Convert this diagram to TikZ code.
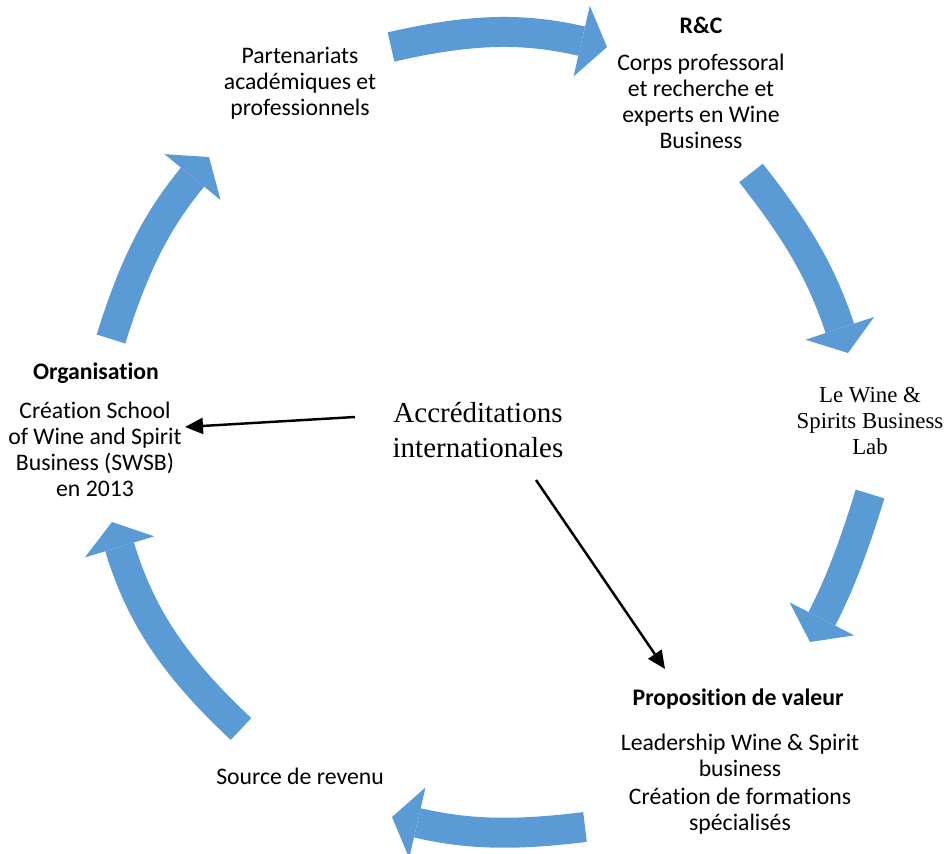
\documentclass[tikz,border=0pt]{standalone}
\usepackage{fontspec}
\setmainfont[Ligatures=CommonOff, RawFeature={-liga;-clig;-calt}]{Carlito}
\newfontfamily\timesfont{Liberation Serif}
\usetikzlibrary{arrows.meta,positioning}
\definecolor{cycleblue}{HTML}{5B9BD5}

\begin{document}
\begin{tikzpicture}[x=0.02cm, y=-0.02cm,
    lbl/.style={font=\fontsize{13.5}{14.8}\selectfont, align=center, inner sep=0pt},
    hdr/.style={font=\fontsize{13.5}{14.8}\selectfont\bfseries, align=center, inner sep=0pt},
    cycarrow/.style={draw=cycleblue, line width=0.6cm, -{Triangle[width=1.45cm, length=0.52cm, line width=0pt]}},
    pointer/.style={line width=1.4pt, -{Triangle[width=0.32cm, length=0.36cm]}}]
    \useasboundingbox (0,0) rectangle (946,854);

    % Text blocks around the cycle
    \node[lbl] (partner) at (300,83) {Partenariats\\acad\'emiques et\\professionnels};
    \node[hdr] (rc) at (701,25) {R\&C};
    \node[lbl] (rcbody) at (701,101) {Corps professoral\\et recherche et\\experts en Wine\\Business};
    \node[align=center, inner sep=0pt, font=\timesfont\fontsize{13}{14.8}\selectfont] (lab) at (870,421) {Le Wine \&\\Spirits Business\\Lab};
    \node[hdr] (prop) at (738,699) {Proposition de valeur};
    \node[lbl] (propA) at (740,755) {Leadership Wine \& Spirit\\business};
    \node[lbl] (propB) at (740,811) {Cr\'eation de formations\\sp\'ecialis\'es};
    \node[lbl] (revenue) at (300,776) {Source de revenu};
    \node[hdr] (org) at (96,373) {Organisation};
    \node[lbl] (orgbody) at (95,449) {Cr\'eation School\\of Wine and Spirit\\Business (SWSB)\\en 2013};

    % Centre
    \node[align=center, inner sep=0pt, font=\timesfont\fontsize{16.5}{19.8}\selectfont] (accred) at (478,430) {Accr\'editations\\internationales};

    % Cycle arrows
    \coordinate (c1a) at (391,47);  \coordinate (c1b) at (607,47);
    \coordinate (c2a) at (751,173); \coordinate (c2b) at (848,353);
    \coordinate (c3a) at (870,494); \coordinate (c3b) at (810,642);
    \coordinate (c4a) at (585,827); \coordinate (c4b) at (392,817);
    \coordinate (c5a) at (241,729); \coordinate (c5b) at (112,522);
    \coordinate (c6a) at (111,339); \coordinate (c6b) at (209,157);
    \draw[cycarrow] (c1a) to[bend left=13] (c1b);
    \draw[cycarrow] (c2a) to[bend left=10] (c2b);
    \draw[cycarrow] (c3a) to[bend left=5] (c3b);
    \draw[cycarrow] (c4a) to[bend left=10] (c4b);
    \draw[cycarrow] (c5a) to[bend left=15] (c5b);
    \draw[cycarrow] (c6a) to[bend left=11] (c6b);

    % Accreditations -> Organisation, Proposition
    \coordinate (p1a) at (355,417); \coordinate (p1b) at (185,427);
    \coordinate (p2a) at (536,480); \coordinate (p2b) at (665,669);
    \draw[pointer] (p1a) -- (p1b);
    \draw[pointer] (p2a) -- (p2b);
\end{tikzpicture}
\end{document}
